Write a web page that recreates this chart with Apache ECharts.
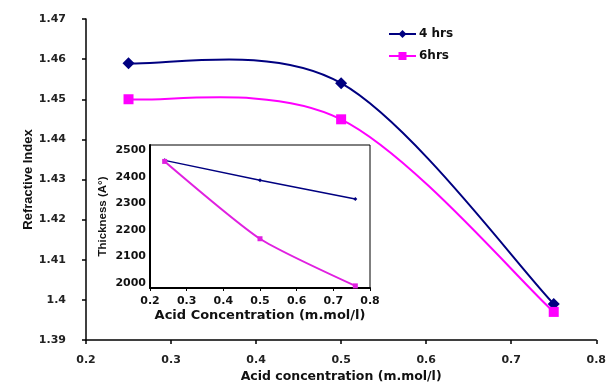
<!DOCTYPE html>
<html>
<head>
<meta charset="utf-8">
<script src="https://cdn.jsdelivr.net/npm/echarts@6/dist/echarts.min.js"></script>
<style>
  html, body { margin: 0; padding: 0; background: #fff; }
  #chart { width: 609px; height: 389px; }
</style>
</head>
<body>
<div id="chart"></div>
<script>
// main chart: refractive index vs acid concentration
const acidConc = [0.25, 0.5, 0.75]
const ri4hrs = [1.459, 1.454, 1.399]
const ri6hrs = [1.450, 1.445, 1.397]

// inset: thickness vs acid concentration
const insetConc = [0.24, 0.5, 0.76]
const thick4hrs = [2462, 2387, 2316]
const thick6hrs = [2458, 2166, 1988]

const seriesNames = ['4 hrs', '6hrs']

// the picture is stretched sideways, a wide face fits the horizontal text
const wideFont = 'DejaVu Sans, sans-serif'
const font = 'Liberation Sans, Arial, sans-serif'
const navy = '#000080'
const magenta = '#ff00ff'

function pairs(xs, ys) {
  return xs.map((x, i) => [x, ys[i]])
}

// excel style smoothed line (catmull-rom), echarts smooth clamps the overshoot
function curveSeries(xs, ys, color) {
  const n = xs.length
  return {
    type: 'custom',
    xAxisIndex: 0,
    yAxisIndex: 0,
    silent: true,
    z: 1,
    data: pairs(xs, ys),
    encode: { x: 0, y: 1 },
    renderItem: (params, api) => {
      const i = params.dataIndex
      if (i >= n - 1) return null
      const p = k => {
        const j = Math.max(0, Math.min(n - 1, k))
        return api.coord([xs[j], ys[j]])
      }
      const p0 = p(i - 1), p1 = p(i), p2 = p(i + 1), p3 = p(i + 2)
      return {
        type: 'bezierCurve',
        shape: {
          x1: p1[0], y1: p1[1],
          x2: p2[0], y2: p2[1],
          cpx1: p1[0] + (p2[0] - p0[0]) / 6,
          cpy1: p1[1] + (p2[1] - p0[1]) / 6,
          cpx2: p2[0] - (p3[0] - p1[0]) / 6,
          cpy2: p2[1] - (p3[1] - p1[1]) / 6
        },
        style: { stroke: color, lineWidth: 2, fill: null }
      }
    }
  }
}

const chart = echarts.init(document.getElementById('chart'))

const option = {
  backgroundColor: '#fff',
  animation: false,
  legend: {
    orient: 'vertical',
    left: 383,
    top: 23,
    itemWidth: 27,
    itemHeight: 10,
    itemGap: 10,
    data: [
      { name: seriesNames[0], lineStyle: { color: navy, width: 2, opacity: 1 } },
      { name: seriesNames[1], lineStyle: { color: magenta, width: 2, opacity: 1 } }
    ],
    textStyle: { fontFamily: wideFont, fontSize: 12, fontWeight: 'bold', color: '#111', padding: [0, 0, 0, -2] }
  },
  grid: [
    // main plot
    { left: 86, top: 19, right: 11, bottom: 49 },
    // inset plot
    {
      left: 150, top: 145, width: 220, height: 143,
      show: true, borderColor: '#000', borderWidth: 1, backgroundColor: '#fff', z: 3
    }
  ],
  xAxis: [
    {
      gridIndex: 0,
      type: 'value',
      min: 0.2,
      max: 0.8,
      interval: 0.1,
      name: 'Acid concentration (m.mol/l)',
      nameLocation: 'middle',
      nameGap: 30,
      nameMoveOverlap: false,
      nameTextStyle: { fontFamily: wideFont, fontSize: 12.5, fontWeight: 'bold', color: '#111' },
      axisLine: { lineStyle: { color: '#000', width: 1.5 } },
      axisTick: { length: 4, lineStyle: { color: '#000', width: 1.5 } },
      axisLabel: { fontFamily: wideFont, fontSize: 11, fontWeight: 'bold', color: '#222', margin: 15 },
      splitLine: { show: false }
    },
    {
      gridIndex: 1,
      type: 'value',
      min: 0.2,
      max: 0.8,
      interval: 0.1,
      name: 'Acid Concentration (m.mol/l)',
      nameLocation: 'middle',
      nameGap: 21,
      nameMoveOverlap: false,
      nameTextStyle: { fontFamily: wideFont, fontSize: 13, fontWeight: 'bold', color: '#111' },
      axisLine: { lineStyle: { color: '#000', width: 2 } },
      axisTick: { length: 3, lineStyle: { color: '#000', width: 1 } },
      axisLabel: { fontFamily: wideFont, fontSize: 11, fontWeight: 'bold', color: '#111', margin: 8 },
      splitLine: { show: false },
      z: 4
    }
  ],
  yAxis: [
    {
      gridIndex: 0,
      type: 'value',
      min: 1.39,
      max: 1.47,
      interval: 0.01,
      name: 'Refractive Index',
      nameLocation: 'middle',
      nameGap: 51,
      nameMoveOverlap: false,
      nameTextStyle: { fontFamily: font, fontSize: 13, fontWeight: 'bold', color: '#111' },
      axisLine: { show: true, lineStyle: { color: '#000', width: 1.5 } },
      axisTick: { show: true, length: 4, lineStyle: { color: '#000', width: 1.5 } },
      axisLabel: { fontFamily: wideFont, fontSize: 11, fontWeight: 'bold', color: '#222', margin: 20 },
      splitLine: { show: false }
    },
    {
      gridIndex: 1,
      type: 'value',
      min: 1980,
      max: 2520,
      interval: 20,
      name: 'Thickness (A°)',
      nameLocation: 'middle',
      nameGap: 41,
      nameMoveOverlap: false,
      nameTextStyle: { fontFamily: font, fontSize: 11.5, fontWeight: 'bold', color: '#111' },
      axisLine: { show: true, lineStyle: { color: '#000', width: 2 } },
      axisTick: { show: false },
      axisLabel: {
        fontFamily: wideFont, fontSize: 11, fontWeight: 'bold', color: '#111', margin: 4,
        formatter: v => (v % 100 === 0 ? String(v) : '')
      },
      splitLine: { show: false },
      z: 4
    }
  ],
  series: [
    curveSeries(acidConc, ri4hrs, navy),
    curveSeries(acidConc, ri6hrs, magenta),
    {
      name: seriesNames[0],
      type: 'line',
      xAxisIndex: 0,
      yAxisIndex: 0,
      data: pairs(acidConc, ri4hrs),
      symbol: 'diamond',
      symbolSize: 12,
      lineStyle: { opacity: 0 },
      itemStyle: { color: navy },
      z: 2
    },
    {
      name: seriesNames[1],
      type: 'line',
      xAxisIndex: 0,
      yAxisIndex: 0,
      data: pairs(acidConc, ri6hrs),
      symbol: 'rect',
      symbolSize: 10,
      lineStyle: { opacity: 0 },
      itemStyle: { color: magenta },
      z: 2
    },
    {
      name: 'inset 4 hrs',
      type: 'line',
      xAxisIndex: 1,
      yAxisIndex: 1,
      data: pairs(insetConc, thick4hrs),
      symbol: 'diamond',
      symbolSize: 4,
      lineStyle: { color: navy, width: 1.5 },
      itemStyle: { color: navy },
      z: 5
    },
    {
      name: 'inset 6hrs',
      type: 'line',
      xAxisIndex: 1,
      yAxisIndex: 1,
      data: pairs(insetConc, thick6hrs),
      smooth: 0.2,
      symbol: 'rect',
      symbolSize: 5,
      lineStyle: { color: '#e020e0', width: 2 },
      itemStyle: { color: '#e020e0' },
      z: 5
    }
  ]
}

chart.setOption(option)
</script>
</body>
</html>
